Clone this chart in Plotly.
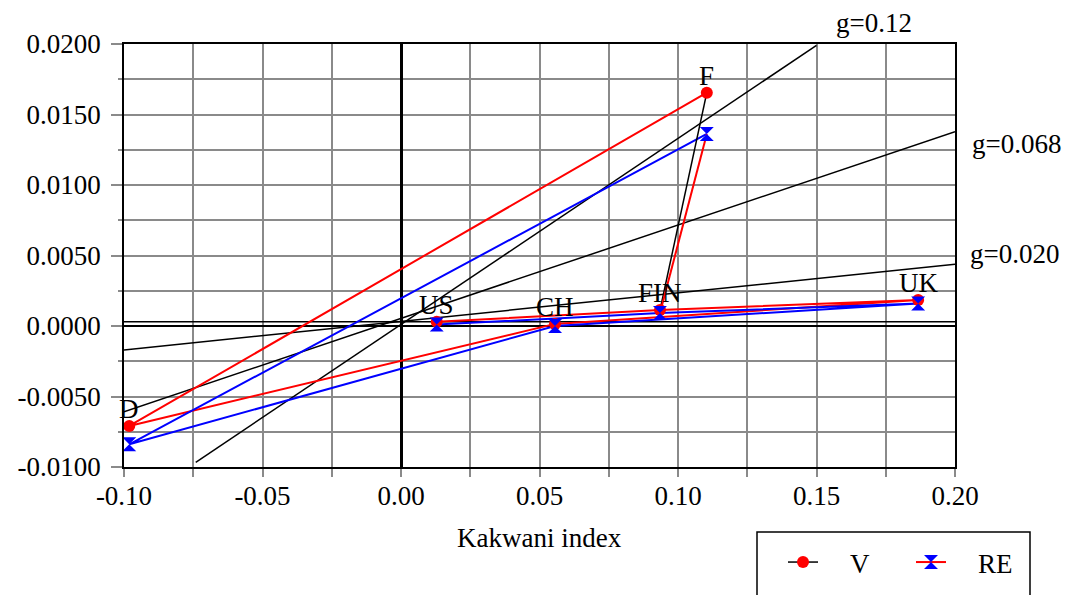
import plotly.graph_objects as go

# ---- data ----
countries = ["F", "D", "CH", "UK", "FIN", "US"]          # drawing order of the polyline
kakwani   = [0.1104, -0.0981, 0.0556, 0.1867, 0.0935, 0.0129]
v_vals    = [0.01655, -0.00709, 0.00015, 0.00184, 0.00113, 0.00030]
re_vals   = [0.01362, -0.00839, 0.00000, 0.00160, 0.00092, 0.00010]

# growth reference lines (endpoints)
g_labels = ["g=0.12", "g=0.068", "g=0.020"]
g_x0 = [-0.0741, -0.10, -0.10]
g_y0 = [-0.00967, -0.00608, -0.00170]
g_x1 = [0.150, 0.20, 0.20]
g_y1 = [0.0199, 0.01378, 0.00438]
g0_level = 0.0003

x_tickvals = [-0.10, -0.05, 0.00, 0.05, 0.10, 0.15, 0.20]
x_ticktext = ["-0.10", "-0.05", "0.00", "0.05", "0.10", "0.15", "0.20"]
y_tickvals = [-0.0100, -0.0050, 0.0000, 0.0050, 0.0100, 0.0150, 0.0200]
y_ticktext = ["-0.0100", "-0.0050", "0.0000", "0.0050", "0.0100", "0.0150", "0.0200"]

FONT = "Liberation Serif"
FS = 27
GRID = "#8a8a8a"
PAD = "\u00a0" * 4

fig = go.Figure()

# g reference lines
for i in range(len(g_labels)):
    fig.add_trace(go.Scatter(x=[g_x0[i], g_x1[i]], y=[g_y0[i], g_y1[i]], mode="lines",
                             line=dict(color="black", width=1.5), showlegend=False, hoverinfo="skip"))
fig.add_trace(go.Scatter(x=[-0.10, 0.20], y=[g0_level, g0_level], mode="lines",
                         line=dict(color="black", width=1.5), showlegend=False, hoverinfo="skip"))

# V polyline (red) and RE polyline (blue)
fig.add_trace(go.Scatter(x=kakwani, y=v_vals, mode="lines", line=dict(color="red", width=2),
                         showlegend=False))
fig.add_trace(go.Scatter(x=kakwani, y=re_vals, mode="lines", line=dict(color="blue", width=2),
                         showlegend=False))

iF = countries.index("F")
iFIN = countries.index("FIN")
# FIN -> F segments (legend styled)
fig.add_trace(go.Scatter(x=[kakwani[iFIN], kakwani[iF]], y=[v_vals[iFIN], v_vals[iF]],
                         mode="lines", line=dict(color="black", width=1.5), showlegend=False))
fig.add_trace(go.Scatter(x=[kakwani[iFIN], kakwani[iF]], y=[re_vals[iFIN], re_vals[iF]],
                         mode="lines", line=dict(color="red", width=2), showlegend=False))

# markers
fig.add_trace(go.Scatter(x=kakwani, y=v_vals, mode="markers", name="V",
                         marker=dict(symbol="circle", color="red", size=12, line=dict(width=0)),
                         showlegend=False))
fig.add_trace(go.Scatter(x=kakwani, y=re_vals, mode="markers", name="RE",
                         marker=dict(symbol="hourglass", color="blue", size=14, line=dict(width=0)),
                         showlegend=False))

# legend-only traces
fig.add_trace(go.Scatter(x=[None], y=[None], mode="lines+markers", name=PAD + "V",
                         line=dict(color="black", width=1.5),
                         marker=dict(symbol="circle", color="red", size=12)))
fig.add_trace(go.Scatter(x=[None], y=[None], mode="lines+markers", name=PAD + "RE",
                         line=dict(color="red", width=2),
                         marker=dict(symbol="hourglass", color="blue", size=14)))

annotations = []
for c, xv, yv in zip(countries, kakwani, v_vals):
    annotations.append(dict(x=xv, y=yv, xref="x", yref="y", text=c, showarrow=False,
                            yshift=17, font=dict(family=FONT, size=FS, color="black")))
shifts = [(17, 22), (15, -12), (13, 10)]
for i, lab in enumerate(g_labels):
    annotations.append(dict(x=g_x1[i], y=g_y1[i], xref="x", yref="y", text=lab, showarrow=False,
                            xanchor="left", xshift=shifts[i][0], yshift=shifts[i][1],
                            font=dict(family=FONT, size=FS, color="black")))
annotations.append(dict(x=0.5, y=-0.168, xref="paper", yref="paper", text="Kakwani index",
                        showarrow=False, yanchor="middle",
                        font=dict(family=FONT, size=FS, color="black")))

shapes = [dict(type="rect", xref="paper", yref="paper",
               x0=(757 - 124) / 831, x1=(1030 - 124) / 831,
               y0=(467 - 610) / 423, y1=(467 - 532) / 423,
               line=dict(color="black", width=1.5), fillcolor="rgba(0,0,0,0)")]

fig.update_layout(
    width=1073, height=595,
    margin=dict(l=116, r=126, t=36, b=136, autoexpand=False),
    paper_bgcolor="white", plot_bgcolor="white",
    font=dict(family=FONT, size=FS, color="black"),
    showlegend=True,
    legend=dict(orientation="h", x=(783 - 124) / 831, y=(467 - 538) / 423,
                xanchor="left", yanchor="top", bgcolor="rgba(0,0,0,0)",
                font=dict(family=FONT, size=FS, color="black"),
                entrywidth=83, entrywidthmode="pixels"),
    annotations=annotations, shapes=shapes,
    xaxis=dict(range=[-0.10, 0.20], tickvals=x_tickvals, ticktext=x_ticktext,
               showgrid=True, gridcolor=GRID, gridwidth=1.5, automargin=False,
               ticks="outside", ticklen=8, tickcolor=GRID, tickwidth=1.5,
               minor=dict(dtick=0.025, showgrid=True, gridcolor=GRID, gridwidth=1.5,
                          ticks="outside", ticklen=8, tickcolor=GRID, tickwidth=1.5),
               showline=True, mirror=True, linecolor="black", linewidth=1.5,
               zeroline=True, zerolinecolor="black", zerolinewidth=3,
               ticklabelstandoff=-4),
    yaxis=dict(range=[-0.0100, 0.0200], tickvals=y_tickvals, ticktext=y_ticktext,
               showgrid=True, gridcolor=GRID, gridwidth=1.5, automargin=False,
               ticks="outside", ticklen=11, tickcolor=GRID, tickwidth=1.5,
               minor=dict(dtick=0.0025, showgrid=True, gridcolor=GRID, gridwidth=1.5,
                          ticks="outside", ticklen=4, tickcolor=GRID, tickwidth=1.5),
               showline=True, mirror=True, linecolor="black", linewidth=1.5,
               zeroline=True, zerolinecolor="black", zerolinewidth=2,
               ticklabelstandoff=5),
)

fig.write_html("out.html")
